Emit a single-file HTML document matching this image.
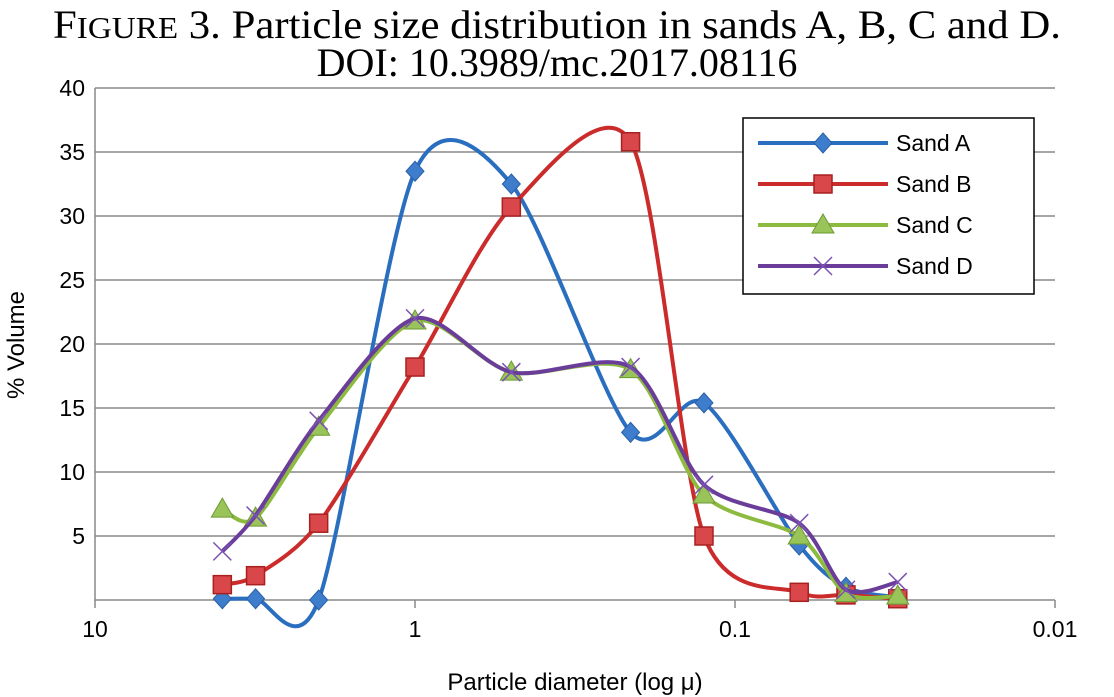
<!DOCTYPE html>
<html><head><meta charset="utf-8">
<style>
body{margin:0;background:#fff;width:1114px;height:697px;overflow:hidden}
svg{display:block}
</style></head>
<body>
<svg width="1114" height="697">
<text x="557" y="38" text-anchor="middle" font-family="Liberation Serif, serif" font-size="40" textLength="1008" lengthAdjust="spacingAndGlyphs">F<tspan font-size="31">IGURE</tspan> 3. Particle size distribution in sands A, B, C and D.</text>
<text x="557" y="76" text-anchor="middle" font-family="Liberation Serif, serif" font-size="40">DOI: 10.3989/mc.2017.08116</text>
<g id="grid"></g>
<g id="axes"></g>
<g id="series"></g>
<text x="575" y="690" text-anchor="middle" font-family="Liberation Sans, sans-serif" font-size="24">Particle diameter (log μ)</text>
<text transform="translate(24,345) rotate(-90)" text-anchor="middle" font-family="Liberation Sans, sans-serif" font-size="24">% Volume</text>
<g id="legend"></g>
</svg>
<script>
const diameters=[4,3.15,2,1,0.5,0.212,0.125,0.063,0.045,0.031];
const sandA=[0.1,0.1,0.0,33.5,32.5,13.1,15.4,4.3,1.0,0.2];
const sandB=[1.2,1.9,6.0,18.2,30.7,35.8,5.0,0.6,0.4,0.1];
const sandC=[7.1,6.4,13.5,21.8,17.8,18.0,8.2,5.0,0.5,0.3];
const sandD=[3.8,6.6,14.0,22.0,17.8,18.2,9.0,6.0,0.8,1.4];
const yTicks=[5,10,15,20,25,30,35,40];
const xTicks=[10,1,0.1,0.01];
const xTickLabels=["10","1","0.1","0.01"];
const seriesNames=["Sand A","Sand B","Sand C","Sand D"];
const NS="http://www.w3.org/2000/svg";
const X0=95,X1=1055,Y0=600,YT=88;
function sx(d){return X0+(1-Math.log10(d))/3*(X1-X0);}
function sy(v){return Y0-v/40*(Y0-YT);}
function mk(tag,attrs,parent){const e=document.createElementNS(NS,tag);for(const k in attrs)e.setAttribute(k,attrs[k]);parent.appendChild(e);return e;}
const grid=document.getElementById('grid'),axes=document.getElementById('axes'),ser=document.getElementById('series'),leg=document.getElementById('legend');
yTicks.forEach(t=>{
 const l=mk('line',{x1:X0,x2:X1,y1:sy(t),y2:sy(t),stroke:'#888','stroke-width':1.5},grid);
 
 
 const tx=mk('text',{x:X0-10,y:sy(t)+8,'text-anchor':'end','font-family':'Liberation Sans, sans-serif','font-size':23},axes);
 tx.textContent=t;
 
 
});
const ax=mk('path',{d:`M${X0},${YT} V${Y0} H${X1}`,fill:'none',stroke:'#888','stroke-width':1.5},axes);


xTicks.forEach((t,i)=>{
 const x=sx(t);
 const l=mk('line',{x1:x,x2:x,y1:Y0,y2:Y0+8,stroke:'#888','stroke-width':1.5},axes);
 
 
 const tx=mk('text',{x:x,y:Y0+37,'text-anchor':'middle','font-family':'Liberation Sans, sans-serif','font-size':23},axes);
 tx.textContent=xTickLabels[i];
 
 
});
function smooth(pts){
 let d=`M${pts[0][0]},${pts[0][1]}`;
 for(let i=0;i<pts.length-1;i++){
  const p0=pts[Math.max(0,i-1)],p1=pts[i],p2=pts[i+1],p3=pts[Math.min(pts.length-1,i+2)];
  const t=0.14;
  d+=` C${p1[0]+(p2[0]-p0[0])*t},${p1[1]+(p2[1]-p0[1])*t} ${p2[0]-(p3[0]-p1[0])*t},${p2[1]-(p3[1]-p1[1])*t} ${p2[0]},${p2[1]}`;
 }
 return d;
}
function marker(kind,x,y,g){
 if(kind==='diamond')return mk('path',{d:`M${x},${y-10} L${x+9},${y} L${x},${y+10} L${x-9},${y}Z`,fill:'#3d7dcc',stroke:'#2a5fa8','stroke-width':1},g);
 if(kind==='square')return mk('rect',{x:x-9,y:y-9,width:18,height:18,fill:'#d9474a',stroke:'#a82020','stroke-width':1.5},g);
 if(kind==='triangle')return mk('path',{d:`M${x},${y-11} L${x+11},${y+8} L${x-11},${y+8}Z`,fill:'#99c45a',stroke:'#6e9a30','stroke-width':1},g);
 return mk('path',{d:`M${x-9},${y-9} L${x+9},${y+9} M${x+9},${y-9} L${x-9},${y+9}`,stroke:'#7b52b3','stroke-width':1.5},g);
}
const allSeries=[sandA,sandB,sandC,sandD];
const colors=['#2a6ebf','#cc2b2b','#8dbb3f','#6a3d9a'];
const kinds=['diamond','square','triangle','x'];
allSeries.forEach((vals,si)=>{
 const g=mk('g',{},ser);
 
 
 const pts=vals.map((v,i)=>[sx(diameters[i]),sy(v)]);
 const ln=mk('path',{d:smooth(pts),fill:'none',stroke:colors[si],'stroke-width':4},g);
 
 
 pts.forEach(p=>{const m=marker(kinds[si],p[0],p[1],g);
  
  });
});
const box=mk('rect',{x:743,y:118,width:291,height:176,fill:'#fff',stroke:'#000','stroke-width':1.5},leg);


seriesNames.forEach((n,i)=>{
 const y=143+i*41;
 const g=mk('g',{},leg);
 
 
 mk('line',{x1:758,x2:888,y1:y,y2:y,stroke:colors[i],'stroke-width':4},g);
 marker(kinds[i],823,y,g);
 const t=mk('text',{x:896,y:y+8,'font-family':'Liberation Sans, sans-serif','font-size':23},g);
 t.textContent=n;
});
</script>
</body></html>
